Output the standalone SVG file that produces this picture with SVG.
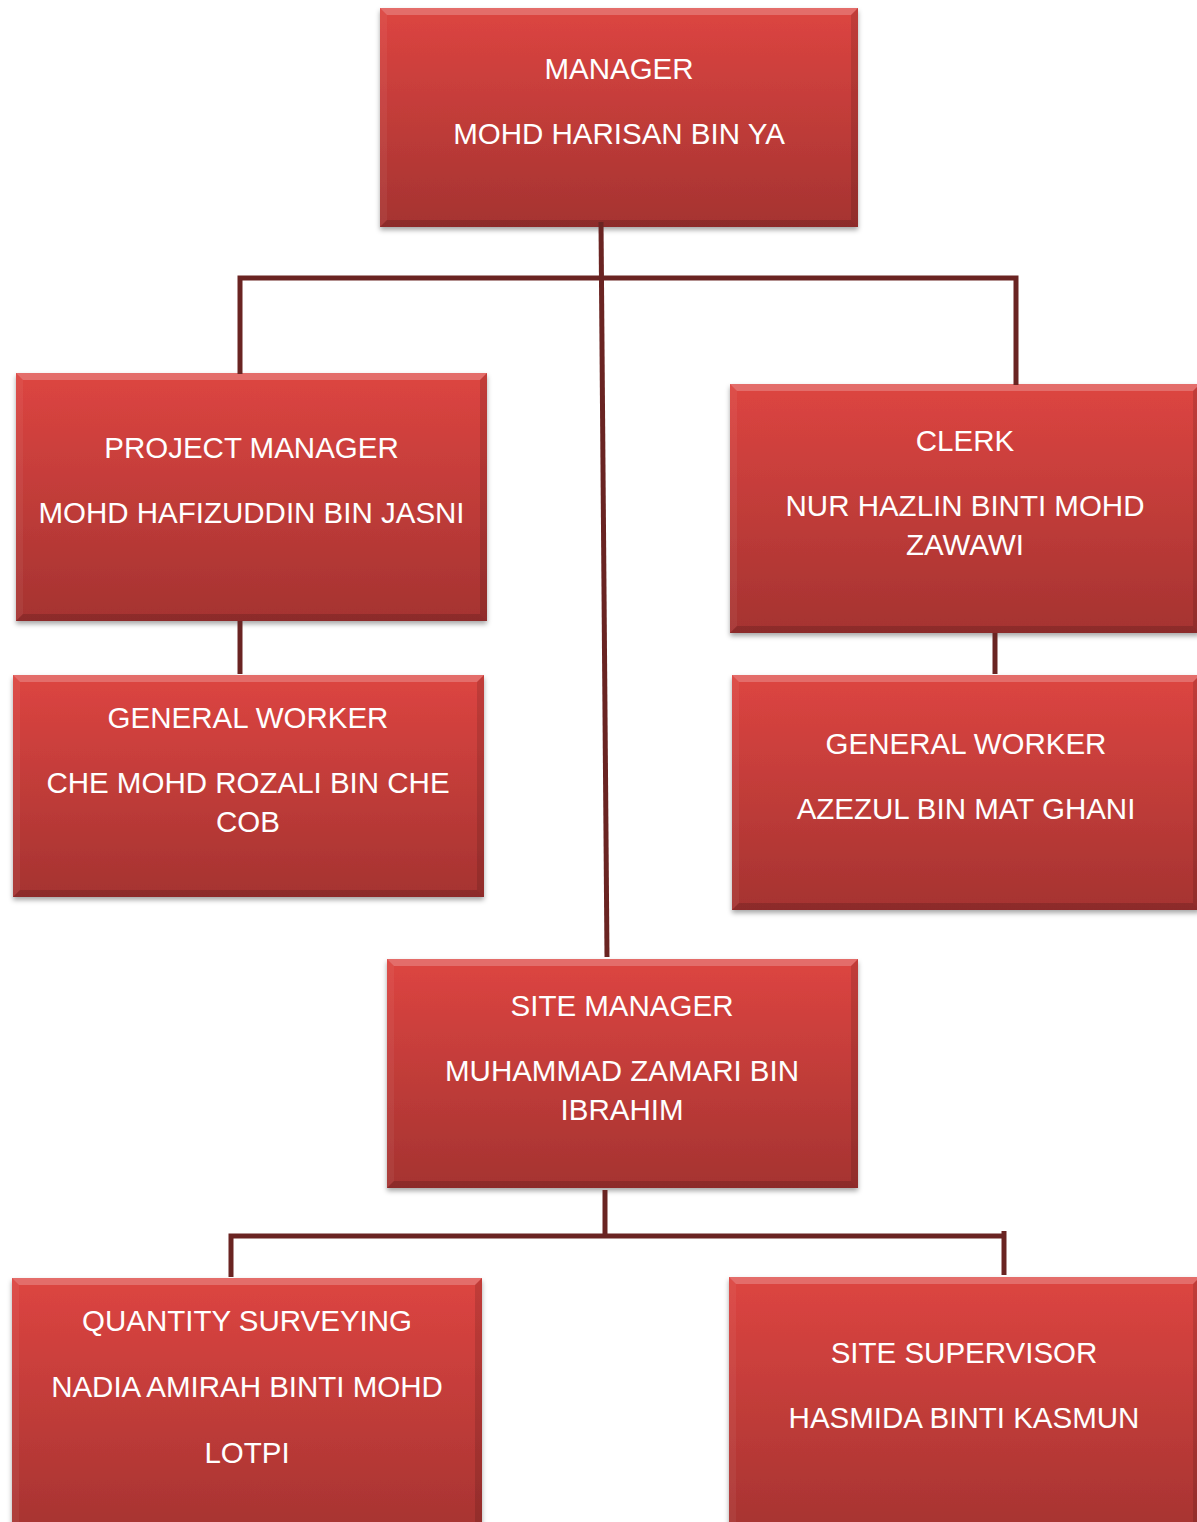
<svg xmlns="http://www.w3.org/2000/svg" width="1197" height="1522" viewBox="0 0 1197 1522">
<defs>
<linearGradient id="fillG" x1="0" y1="0" x2="0" y2="1">
<stop offset="0" stop-color="#dd4541"/>
<stop offset="1" stop-color="#a53331"/>
</linearGradient>
<filter id="sh" x="-5%" y="-5%" width="110%" height="115%">
<feDropShadow dx="0" dy="3" stdDeviation="2.5" flood-color="#000" flood-opacity="0.35"/>
</filter>
<style>
.box{fill:url(#fillG);filter:url(#sh)}
.bt{fill:#ffffff;fill-opacity:0.22}
.bl{fill:#ffffff;fill-opacity:0.05}
.br{fill:#000000;fill-opacity:0.12}
.bb{fill:#000000;fill-opacity:0.15}
.t{font-family:"Liberation Sans",Arial,sans-serif;font-size:29.5px;fill:#ffffff;text-anchor:middle}
.c{stroke:#6a2422;stroke-width:5;fill:none}
</style>
</defs>
<rect width="1197" height="1522" fill="#ffffff"/>

<g id="manager">
<rect class="box" x="380" y="8" width="478" height="219"/>
<polygon class="bt" points="380,8 858,8 851,15 387,15"/>
<polygon class="bl" points="380,8 387,15 387,220 380,227"/>
<polygon class="br" points="858,8 851,15 851,220 858,227"/>
<polygon class="bb" points="380,227 858,227 851,220 387,220"/>
<text class="t" x="619" y="79">MANAGER</text>
<text class="t" x="619" y="144">MOHD HARISAN BIN YA</text>
</g>

<g id="project-manager">
<rect class="box" x="16" y="373" width="471" height="248"/>
<polygon class="bt" points="16,373 487,373 480,380 23,380"/>
<polygon class="bl" points="16,373 23,380 23,614 16,621"/>
<polygon class="br" points="487,373 480,380 480,614 487,621"/>
<polygon class="bb" points="16,621 487,621 480,614 23,614"/>
<text class="t" x="251.5" y="458">PROJECT MANAGER</text>
<text class="t" x="251.5" y="523">MOHD HAFIZUDDIN BIN JASNI</text>
</g>

<g id="general-worker-1">
<rect class="box" x="13" y="675" width="471" height="222"/>
<polygon class="bt" points="13,675 484,675 477,682 20,682"/>
<polygon class="bl" points="13,675 20,682 20,890 13,897"/>
<polygon class="br" points="484,675 477,682 477,890 484,897"/>
<polygon class="bb" points="13,897 484,897 477,890 20,890"/>
<text class="t" x="248" y="728">GENERAL WORKER</text>
<text class="t" x="248" y="793">CHE MOHD ROZALI BIN CHE</text>
<text class="t" x="248" y="832">COB</text>
</g>

<g id="clerk">
<rect class="box" x="730" y="384" width="470" height="249"/>
<polygon class="bt" points="730,384 1200,384 1193,391 737,391"/>
<polygon class="bl" points="730,384 737,391 737,626 730,633"/>
<polygon class="br" points="1200,384 1193,391 1193,626 1200,633"/>
<polygon class="bb" points="730,633 1200,633 1193,626 737,626"/>
<text class="t" x="965" y="451">CLERK</text>
<text class="t" x="965" y="516">NUR HAZLIN BINTI MOHD</text>
<text class="t" x="965" y="555">ZAWAWI</text>
</g>

<g id="general-worker-2">
<rect class="box" x="732" y="675" width="468" height="235"/>
<polygon class="bt" points="732,675 1200,675 1193,682 739,682"/>
<polygon class="bl" points="732,675 739,682 739,903 732,910"/>
<polygon class="br" points="1200,675 1193,682 1193,903 1200,910"/>
<polygon class="bb" points="732,910 1200,910 1193,903 739,903"/>
<text class="t" x="966" y="754">GENERAL WORKER</text>
<text class="t" x="966" y="819">AZEZUL BIN MAT GHANI</text>
</g>

<g id="site-manager">
<rect class="box" x="387" y="959" width="471" height="229"/>
<polygon class="bt" points="387,959 858,959 851,966 394,966"/>
<polygon class="bl" points="387,959 394,966 394,1181 387,1188"/>
<polygon class="br" points="858,959 851,966 851,1181 858,1188"/>
<polygon class="bb" points="387,1188 858,1188 851,1181 394,1181"/>
<text class="t" x="622" y="1016">SITE MANAGER</text>
<text class="t" x="622" y="1081">MUHAMMAD ZAMARI BIN</text>
<text class="t" x="622" y="1120">IBRAHIM</text>
</g>

<g id="quantity-surveying">
<rect class="box" x="12" y="1278" width="470" height="260"/>
<polygon class="bt" points="12,1278 482,1278 475,1285 19,1285"/>
<polygon class="bl" points="12,1278 19,1285 19,1531 12,1538"/>
<polygon class="br" points="482,1278 475,1285 475,1531 482,1538"/>
<text class="t" x="247" y="1331">QUANTITY SURVEYING</text>
<text class="t" x="247" y="1397">NADIA AMIRAH BINTI MOHD</text>
<text class="t" x="247" y="1463">LOTPI</text>
</g>

<g id="site-supervisor">
<rect class="box" x="729" y="1277" width="471" height="260"/>
<polygon class="bt" points="729,1277 1200,1277 1193,1284 736,1284"/>
<polygon class="bl" points="729,1277 736,1284 736,1530 729,1537"/>
<polygon class="br" points="1200,1277 1193,1284 1193,1530 1200,1537"/>
<text class="t" x="964" y="1363">SITE SUPERVISOR</text>
<text class="t" x="964" y="1428">HASMIDA BINTI KASMUN</text>
</g>

<g id="connectors">
<line class="c" x1="601" y1="222" x2="607" y2="957"/>
<polyline class="c" points="240,374 240,278 1016,278 1016,385"/>
<line class="c" x1="240" y1="621" x2="240" y2="674"/>
<line class="c" x1="995" y1="633" x2="995" y2="674"/>
<line class="c" x1="605" y1="1190" x2="605" y2="1236"/>
<polyline class="c" points="231,1277 231,1236 1004,1236"/>
<line class="c" x1="1004" y1="1231" x2="1004" y2="1275"/>
</g>
</svg>
